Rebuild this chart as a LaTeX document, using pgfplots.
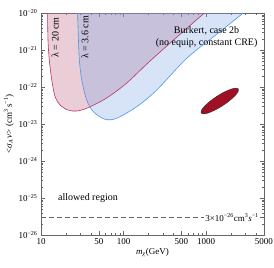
\documentclass[border=0pt]{standalone}
\usepackage{fontspec}
\setmainfont{Liberation Serif}
\usepackage{pgfplots}
\pgfplotsset{compat=1.18}
\definecolor{redfill}{RGB}{198,112,141}
\definecolor{bluefill}{RGB}{122,165,232}
\definecolor{redline}{RGB}{190,50,95}
\definecolor{blueline}{RGB}{80,150,225}
\definecolor{ellred}{RGB}{160,15,35}
\begin{document}
\begin{tikzpicture}
\begin{axis}[name=ax, scale only axis, width=223pt, height=222pt,
 xmode=log, ymode=log, xmin=10, xmax=5000, ymin=1e-26, ymax=1e-20,
 xtick={10,50,100,500,1000,5000}, xticklabels={10,50,100,500,1000,5000},
 minor xtick={20,30,40,60,70,80,90,200,300,400,600,700,800,900,2000,3000,4000},
 ytick={1e-26,1e-25,1e-24,1e-23,1e-22,1e-21,1e-20},
 yticklabels={10\textsuperscript{−26},10\textsuperscript{−25},10\textsuperscript{−24},10\textsuperscript{−23},10\textsuperscript{−22},10\textsuperscript{−21},10\textsuperscript{−20}},
 minor ytick={2e-26,3e-26,4e-26,5e-26,6e-26,7e-26,8e-26,9e-26,
 2e-25,3e-25,4e-25,5e-25,6e-25,7e-25,8e-25,9e-25,
 2e-24,3e-24,4e-24,5e-24,6e-24,7e-24,8e-24,9e-24,
 2e-23,3e-23,4e-23,5e-23,6e-23,7e-23,8e-23,9e-23,
 2e-22,3e-22,4e-22,5e-22,6e-22,7e-22,8e-22,9e-22,
 2e-21,3e-21,4e-21,5e-21,6e-21,7e-21,8e-21,9e-21},
 tick align=inside, major tick length=4pt, minor tick length=2pt,
 tick style={black!60, line width=0.4pt}, axis line style={black!60},
 ticklabel style={font=\fontsize{9}{10}\selectfont},
 xlabel={\textit{m}\textsubscript{\textit{χ}}(GeV)},
 ylabel={<\textit{σ}\textsubscript{\textit{A}}\,\textit{v}> (cm\textsuperscript{3}\,s\textsuperscript{−1})},
 label style={font=\fontsize{9}{10}\selectfont},
 xlabel style={yshift=3pt},
 ylabel style={yshift=-2pt},
]
% red region (lambda = 20 cm)
\addplot[draw=none, fill=redfill, fill opacity=0.35, smooth] coordinates {
(12.0,1e-20) (12.15,1.86e-21) (12.6,5.37e-22) (13.5,1.55e-22) (14.8,5.47e-23)
(17.0,3.27e-23) (21.2,2.39e-23) (27.0,2.24e-23) (37.1,2.76e-23) (62.4,5.05e-23)
(109,1.28e-22) (209,5.05e-22) (581,3.85e-21) (950,1e-20)} -- cycle;
% blue region (lambda = 3.6 cm)
\addplot[draw=none, fill=bluefill, fill opacity=0.3, smooth] coordinates {
(27.7,1e-20) (28.4,1.86e-21) (29.1,5.37e-22) (31.1,1.55e-22) (35.7,4.46e-23)
(43.0,2.15e-23) (59.6,1.34e-23) (82.5,1.43e-23) (144,2.94e-23) (252,8.3e-23)
(581,5.97e-22) (1469,3.13e-21) (2800,1e-20)} -- cycle;
\addplot[redline, line width=0.6pt, smooth] coordinates {
(12.0,1e-20) (12.15,1.86e-21) (12.6,5.37e-22) (13.5,1.55e-22) (14.8,5.47e-23)
(17.0,3.27e-23) (21.2,2.39e-23) (27.0,2.24e-23) (37.1,2.76e-23) (62.4,5.05e-23)
(109,1.28e-22) (209,5.05e-22) (581,3.85e-21) (950,1e-20)};
\addplot[blueline, line width=0.6pt, smooth] coordinates {
(27.7,1e-20) (28.4,1.86e-21) (29.1,5.37e-22) (31.1,1.55e-22) (35.7,4.46e-23)
(43.0,2.15e-23) (59.6,1.34e-23) (82.5,1.43e-23) (144,2.94e-23) (252,8.3e-23)
(581,5.97e-22) (1469,3.13e-21) (2800,1e-20)};
% best-fit ellipse
\addplot[fill=ellred, draw=black!80, line width=0.4pt, smooth cycle] coordinates {
(2454,8.91e-23) (2285,9.39e-23) (1986,8.74e-23) (1646,7.29e-23) (1340,5.58e-23)
(1105,4.09e-23) (950,3.01e-23) (872,2.33e-23) (865,1.97e-23) (929,1.87e-23)
(1069,2.00e-23) (1289,2.41e-23) (1584,3.14e-23) (1920,4.29e-23) (2235,5.84e-23)
(2435,7.54e-23)};
% thermal relic line
\addplot[black!60, dash pattern=on 5pt off 3pt, line width=0.8pt] coordinates {(10,3e-26) (5000,3e-26)};
\node[fill=white, inner sep=1pt, font=\fontsize{9}{10}\selectfont] at (axis cs:2050,3e-26)
 {3×10\textsuperscript{−26}cm\textsuperscript{3}\textit{s}\textsuperscript{−1}};
\node[rotate=90, font=\fontsize{10}{11}\selectfont] at (axis cs:14.8,2.2e-21) {λ = 20 cm};
\node[rotate=90, font=\fontsize{10}{11}\selectfont] at (axis cs:34.1,2.2e-21) {λ = 3.6 cm};
\node[align=center, font=\fontsize{10}{12.5}\selectfont] at (axis cs:1010,2.25e-21)
 {Burkert, case 2b\\(no equip, constant CRE)};
\node[font=\fontsize{10}{11}\selectfont] at (axis cs:37,1e-25) {allowed region};
\end{axis}
\pgfresetboundingbox
\path (ax.south west) ++(-41pt,-33pt) rectangle ++(274pt,268pt);
\end{tikzpicture}
\end{document}
